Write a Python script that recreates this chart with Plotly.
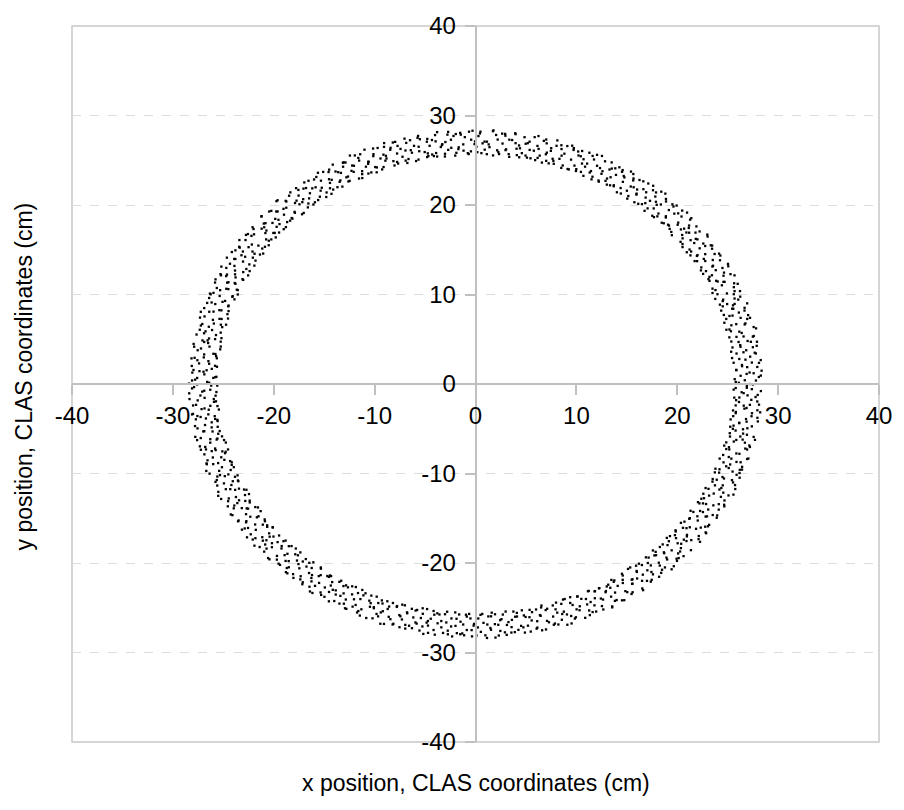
import numpy as np
import plotly.graph_objects as go

# Hit positions, in polar form (angle in degrees, radius in cm)
theta_deg_a = [
    0.3, 0.8, 1.2, 1.9, 2.4, 2.7, 3.5, 3.9, 4.6, 5.0, 5.4, 6.1, 6.5, 7.2, 7.6, 8.0, 8.7, 9.1, 9.4, 9.8,
    10.1, 10.6, 11.0, 11.5, 12.2, 12.6, 13.1, 13.7, 14.2, 14.5, 15.2, 15.7, 16.3, 16.8, 17.1, 17.7, 18.3, 18.6, 19.2, 19.7,
    20.4, 20.7, 21.4, 21.8, 22.1, 22.9, 23.3, 23.8, 24.4, 24.9, 25.5, 25.9, 26.2, 26.9, 27.4, 27.9, 28.2, 28.9, 29.3, 29.6,
    30.2, 30.5, 31.1, 31.7, 32.3, 32.8, 33.2, 33.6, 34.1, 34.7, 35.1, 35.6, 36.0, 36.6, 37.3, 37.8, 38.4, 38.8, 39.0, 39.5,
    40.3, 40.8, 41.2, 41.9, 42.4, 42.7, 43.5, 43.9, 44.6, 45.0, 45.4, 46.1, 46.5, 47.2, 47.6, 48.0, 48.7, 49.1, 49.4, 49.8,
    50.1, 50.6, 51.0, 51.5, 52.2, 52.6, 53.1, 53.7, 54.2, 54.5, 55.2, 55.7, 56.3, 56.8, 57.1, 57.7, 58.3, 58.6, 59.2, 59.7,
    60.4, 60.7, 61.4, 61.8, 62.1, 62.9, 63.3, 63.8, 64.4, 64.9, 65.5, 65.9, 66.2, 66.9, 67.4, 67.9, 68.2, 68.9, 69.3, 69.6,
    70.2, 70.5, 71.1, 71.7, 72.3, 72.8, 73.2, 73.6, 74.1, 74.7, 75.1, 75.6, 76.0, 76.6, 77.3, 77.8, 78.4, 78.8, 79.0, 79.5,
    80.3, 80.8, 81.2, 81.9, 82.4, 82.7, 83.5, 83.9, 84.6, 85.0, 85.4, 86.1, 86.5, 87.2, 87.6, 88.0, 88.7, 89.1, 89.4, 89.8,
    90.1, 90.6, 91.0, 91.5, 92.2, 92.6, 93.1, 93.7, 94.2, 94.5, 95.2, 95.7, 96.3, 96.8, 97.1, 97.7, 98.3, 98.6, 99.2, 99.7,
    100.4, 100.7, 101.4, 101.8, 102.1, 102.9, 103.3, 103.8, 104.4, 104.9, 105.5, 105.9, 106.2, 106.9, 107.4, 107.9, 108.2, 108.9, 109.3, 109.6,
    110.2, 110.5, 111.1, 111.7, 112.3, 112.8, 113.2, 113.6, 114.1, 114.7, 115.1, 115.6, 116.0, 116.6, 117.3, 117.8, 118.4, 118.8, 119.0, 119.5,
    120.3, 120.8, 121.2, 121.9, 122.4, 122.7, 123.5, 123.9, 124.6, 125.0, 125.4, 126.1, 126.5, 127.2, 127.6, 128.0, 128.7, 129.1, 129.4, 129.8,
    130.1, 130.6, 131.0, 131.5, 132.2, 132.6, 133.1, 133.7, 134.2, 134.5, 135.2, 135.7, 136.3, 136.8, 137.1, 137.7, 138.3, 138.6, 139.2, 139.7,
    140.4, 140.7, 141.4, 141.8, 142.1, 142.9, 143.3, 143.8, 144.4, 144.9, 145.5, 145.9, 146.2, 146.9, 147.4, 147.9, 148.2, 148.9, 149.3, 149.6,
    150.2, 150.5, 151.1, 151.7, 152.3, 152.8, 153.2, 153.6, 154.1, 154.7, 155.1, 155.6, 156.0, 156.6, 157.3, 157.8, 158.4, 158.8, 159.0, 159.5,
    160.3, 160.8, 161.2, 161.9, 162.4, 162.7, 163.5, 163.9, 164.6, 165.0, 165.4, 166.1, 166.5, 167.2, 167.6, 168.0, 168.7, 169.1, 169.4, 169.8,
    170.1, 170.6, 171.0, 171.5, 172.2, 172.6, 173.1, 173.7, 174.2, 174.5, 175.2, 175.7, 176.3, 176.8, 177.1, 177.7, 178.3, 178.6, 179.2, 179.7,
    180.4, 180.7, 181.4, 181.8, 182.1, 182.9, 183.3, 183.8, 184.4, 184.9, 185.5, 185.9, 186.2, 186.9, 187.4, 187.9, 188.2, 188.9, 189.3, 189.6,
    190.2, 190.5, 191.1, 191.7, 192.3, 192.8, 193.2, 193.6, 194.1, 194.7, 195.1, 195.6, 196.0, 196.6, 197.3, 197.8, 198.4, 198.8, 199.0, 199.5,
    200.3, 200.8, 201.2, 201.9, 202.4, 202.7, 203.5, 203.9, 204.6, 205.0, 205.4, 206.1, 206.5, 207.2, 207.6, 208.0, 208.7, 209.1, 209.4, 209.8,
    210.1, 210.6, 211.0, 211.5, 212.2, 212.6, 213.1, 213.7, 214.2, 214.5, 215.2, 215.7, 216.3, 216.8, 217.1, 217.7, 218.3, 218.6, 219.2, 219.7,
    220.4, 220.7, 221.4, 221.8, 222.1, 222.9, 223.3, 223.8, 224.4, 224.9, 225.5, 225.9, 226.2, 226.9, 227.4, 227.9, 228.2, 228.9, 229.3, 229.6,
    230.2, 230.5, 231.1, 231.7, 232.3, 232.8, 233.2, 233.6, 234.1, 234.7, 235.1, 235.6, 236.0, 236.6, 237.3, 237.8, 238.4, 238.8, 239.0, 239.5,
    240.3, 240.8, 241.2, 241.9, 242.4, 242.7, 243.5, 243.9, 244.6, 245.0, 245.4, 246.1, 246.5, 247.2, 247.6, 248.0, 248.7, 249.1, 249.4, 249.8,
    250.1, 250.6, 251.0, 251.5, 252.2, 252.6, 253.1, 253.7, 254.2, 254.5, 255.2, 255.7, 256.3, 256.8, 257.1, 257.7, 258.3, 258.6, 259.2, 259.7,
    260.4, 260.7, 261.4, 261.8, 262.1, 262.9, 263.3, 263.8, 264.4, 264.9, 265.5, 265.9, 266.2, 266.9, 267.4, 267.9, 268.2, 268.9, 269.3, 269.6,
    270.2, 270.5, 271.1, 271.7, 272.3, 272.8, 273.2, 273.6, 274.1, 274.7, 275.1, 275.6, 276.0, 276.6, 277.3, 277.8, 278.4, 278.8, 279.0, 279.5,
    280.3, 280.8, 281.2, 281.9, 282.4, 282.7, 283.5, 283.9, 284.6, 285.0, 285.4, 286.1, 286.5, 287.2, 287.6, 288.0, 288.7, 289.1, 289.4, 289.8,
    290.1, 290.6, 291.0, 291.5, 292.2, 292.6, 293.1, 293.7, 294.2, 294.5, 295.2, 295.7, 296.3, 296.8, 297.1, 297.7, 298.3, 298.6, 299.2, 299.7,
    300.4, 300.7, 301.4, 301.8, 302.1, 302.9, 303.3, 303.8, 304.4, 304.9, 305.5, 305.9, 306.2, 306.9, 307.4, 307.9, 308.2, 308.9, 309.3, 309.6,
    310.2, 310.5, 311.1, 311.7, 312.3, 312.8, 313.2, 313.6, 314.1, 314.7, 315.1, 315.6, 316.0, 316.6, 317.3, 317.8, 318.4, 318.8, 319.0, 319.5,
    320.3, 320.8, 321.2, 321.9, 322.4, 322.7, 323.5, 323.9, 324.6, 325.0, 325.4, 326.1, 326.5, 327.2, 327.6, 328.0, 328.7, 329.1, 329.4, 329.8,
    330.1, 330.6, 331.0, 331.5, 332.2, 332.6, 333.1, 333.7, 334.2, 334.5, 335.2, 335.7, 336.3, 336.8, 337.1, 337.7, 338.3, 338.6, 339.2, 339.7,
    340.4, 340.7, 341.4, 341.8, 342.1, 342.9, 343.3, 343.8, 344.4, 344.9, 345.5, 345.9, 346.2, 346.9, 347.4, 347.9, 348.2, 348.9, 349.3, 349.6,
    350.2, 350.5, 351.1, 351.7, 352.3, 352.8, 353.2, 353.6, 354.1, 354.7, 355.1, 355.6, 356.0, 356.6, 357.3, 357.8, 358.4, 358.8, 359.0, 359.5,
]

radius_cm_a = [
    26.1, 27.8, 25.7, 28.3, 26.9, 27.2, 25.9, 28.0, 26.5, 27.5, 28.4, 26.3, 25.6, 27.9, 26.8, 27.1, 28.2, 25.8, 26.6, 27.7,
    27.4, 25.8, 28.1, 26.4, 27.0, 28.5, 26.0, 25.6, 27.6, 26.7, 28.2, 27.3, 25.9, 26.3, 27.9, 28.0, 26.8, 25.7, 27.2, 26.5,
    28.0, 26.2, 27.5, 25.6, 26.9, 27.8, 28.3, 26.0, 25.8, 27.1, 26.6, 28.1, 27.4, 25.9, 26.4, 27.7, 28.4, 26.1, 27.0, 25.7,
    25.9, 27.3, 28.2, 26.6, 25.7, 27.9, 26.3, 28.0, 27.5, 26.0, 25.6, 28.3, 26.8, 27.2, 25.8, 27.6, 26.2, 28.1, 26.9, 27.4,
    26.7, 28.1, 25.8, 27.0, 28.4, 26.1, 27.7, 25.9, 26.5, 28.2, 27.3, 26.0, 25.7, 27.8, 28.0, 26.4, 27.1, 25.6, 28.3, 26.8,
    27.9, 26.0, 26.8, 28.3, 25.7, 27.4, 26.6, 28.1, 25.9, 27.0, 26.3, 27.8, 28.2, 25.6, 26.9, 27.5, 26.1, 28.0, 27.2, 25.8,
    26.4, 27.6, 28.2, 25.8, 26.9, 27.1, 25.6, 28.4, 26.2, 27.7, 28.0, 26.6, 25.9, 27.3, 26.0, 28.1, 27.5, 25.7, 26.8, 27.9,
    28.3, 25.9, 27.2, 26.5, 28.0, 26.1, 27.8, 25.7, 27.4, 26.8, 25.6, 28.2, 26.3, 27.0, 28.4, 25.8, 26.7, 27.6, 26.0, 27.3,
    25.7, 27.0, 26.6, 28.2, 27.5, 25.9, 26.3, 27.9, 28.1, 26.0, 27.4, 25.6, 28.3, 26.8, 27.1, 26.2, 25.8, 28.0, 27.7, 26.5,
    27.1, 28.3, 26.0, 25.7, 27.6, 26.8, 28.1, 26.3, 25.9, 27.8, 26.5, 28.0, 27.2, 25.6, 26.9, 28.4, 27.4, 26.1, 25.8, 27.0,
    26.2, 25.8, 27.9, 28.1, 26.6, 27.3, 25.6, 26.9, 28.3, 27.0, 25.9, 26.4, 27.7, 28.2, 26.0, 27.5, 25.7, 28.0, 26.7, 27.2,
    28.1, 26.9, 25.7, 27.4, 26.2, 28.4, 27.0, 25.8, 26.6, 27.8, 28.2, 26.0, 25.6, 27.3, 26.8, 28.0, 27.6, 25.9, 26.4, 27.1,
    27.5, 26.3, 28.0, 25.9, 27.1, 26.7, 28.3, 25.6, 26.0, 27.9, 26.5, 28.1, 27.2, 25.8, 26.9, 27.7, 25.7, 28.2, 26.1, 27.4,
    25.8, 28.2, 26.6, 27.0, 25.6, 27.8, 26.2, 28.4, 27.3, 26.0, 25.9, 27.6, 28.0, 26.8, 27.1, 25.7, 26.4, 28.3, 27.5, 26.1,
    26.9, 27.4, 25.9, 28.0, 26.3, 25.7, 27.7, 28.2, 26.0, 27.1, 28.4, 25.8, 26.6, 27.9, 26.2, 28.1, 27.3, 25.6, 26.8, 27.6,
    28.4, 26.1, 27.3, 25.6, 27.9, 26.8, 25.8, 27.5, 28.1, 26.4, 27.0, 28.3, 25.9, 26.7, 27.8, 26.0, 25.7, 27.2, 28.2, 26.5,
    26.0, 27.7, 28.1, 26.5, 25.8, 27.2, 28.4, 26.2, 27.0, 25.6, 26.8, 27.9, 28.0, 25.9, 27.4, 26.3, 28.2, 26.9, 25.7, 27.5,
    27.3, 25.6, 26.7, 28.2, 27.8, 26.0, 25.9, 27.1, 28.3, 26.6, 27.5, 25.7, 26.2, 28.0, 27.0, 26.9, 25.8, 27.6, 28.1, 26.4,
    25.6, 27.9, 26.3, 27.1, 28.4, 25.8, 26.9, 27.6, 26.0, 28.1, 25.7, 27.3, 26.6, 28.3, 27.8, 26.1, 27.0, 25.9, 26.5, 28.2,
    28.0, 26.6, 27.4, 25.9, 26.1, 28.3, 27.0, 26.4, 25.7, 27.7, 28.2, 26.8, 27.2, 25.6, 26.0, 27.9, 28.1, 26.3, 27.5, 25.8,
    26.8, 28.2, 25.7, 27.3, 26.5, 27.8, 26.0, 28.0, 25.9, 26.7, 27.4, 28.4, 26.2, 25.8, 27.6, 26.9, 25.6, 28.1, 27.1, 26.3,
    27.7, 26.0, 28.3, 26.6, 25.8, 27.0, 28.1, 25.6, 27.5, 26.3, 28.0, 26.9, 25.9, 27.2, 28.4, 26.1, 27.8, 25.7, 26.4, 27.4,
    26.3, 27.5, 26.9, 28.1, 27.2, 25.7, 26.4, 28.3, 25.9, 27.8, 26.6, 25.6, 28.0, 27.1, 26.0, 27.6, 28.2, 26.7, 25.8, 27.9,
    28.2, 25.9, 27.6, 26.2, 28.0, 26.8, 25.6, 27.4, 26.5, 28.4, 27.1, 26.0, 25.8, 27.9, 26.3, 28.1, 27.0, 25.7, 26.9, 27.3,
    25.9, 26.8, 28.0, 27.3, 25.6, 28.2, 26.1, 27.7, 26.6, 25.8, 27.9, 28.3, 26.4, 27.0, 25.7, 26.9, 28.1, 27.5, 26.2, 27.2,
    27.0, 28.4, 26.3, 25.8, 27.6, 26.1, 28.0, 26.9, 25.7, 27.3, 26.5, 28.2, 27.8, 26.0, 25.9, 27.4, 26.7, 28.1, 25.6, 27.1,
    26.6, 25.7, 27.8, 28.3, 26.0, 27.4, 25.9, 26.8, 28.1, 27.2, 25.6, 26.3, 27.9, 28.0, 26.9, 25.8, 27.5, 26.2, 28.2, 27.0,
    28.1, 27.2, 25.8, 26.7, 28.4, 26.0, 27.5, 25.6, 26.9, 28.2, 27.7, 26.4, 25.9, 27.1, 28.0, 26.6, 25.7, 27.8, 26.3, 27.4,
    25.7, 26.5, 28.2, 27.0, 26.1, 27.9, 28.3, 26.6, 25.8, 27.4, 26.2, 28.0, 27.1, 25.9, 26.8, 27.7, 28.4, 26.0, 27.3, 25.6,
    27.6, 28.0, 26.2, 25.6, 27.3, 26.9, 25.8, 28.2, 27.0, 26.4, 28.1, 25.7, 26.7, 27.8, 26.0, 27.2, 25.9, 28.3, 26.5, 27.9,
    26.4, 27.1, 28.3, 26.0, 25.9, 27.7, 26.6, 28.0, 25.7, 27.2, 26.8, 28.2, 25.6, 27.5, 26.3, 27.0, 28.1, 25.8, 26.9, 27.6,
    28.2, 26.3, 25.7, 27.8, 27.0, 26.1, 28.4, 25.9, 27.3, 26.6, 25.8, 27.9, 28.0, 26.2, 27.6, 25.6, 26.8, 27.1, 28.3, 26.0,
    25.8, 27.6, 26.9, 28.1, 26.4, 25.6, 27.2, 28.3, 26.0, 27.8, 28.0, 26.5, 25.9, 27.3, 26.7, 28.2, 27.0, 25.7, 26.2, 27.9,
    27.2, 26.0, 28.2, 25.7, 27.9, 26.6, 25.9, 27.4, 28.4, 26.3, 27.0, 25.8, 28.1, 26.8, 27.6, 26.1, 25.6, 27.8, 28.0, 26.5,
    26.1, 28.0, 27.3, 26.7, 25.8, 28.3, 27.0, 26.2, 25.6, 27.7, 28.1, 26.4, 27.5, 25.9, 26.9, 28.2, 27.1, 26.0, 25.7, 27.4,
    27.8, 26.5, 25.6, 27.1, 28.2, 26.0, 27.6, 28.4, 26.8, 25.9, 27.3, 26.2, 28.0, 25.7, 27.0, 26.6, 28.3, 27.4, 25.8, 26.9,
]

theta_deg_b = [
    0.0, 0.5, 0.9, 1.6, 2.0, 2.5, 3.0, 3.4, 4.0, 4.3, 4.8, 5.3, 5.8, 6.4, 7.0, 7.5, 8.1, 8.5, 9.0, 9.6,
    10.2, 10.9, 11.3, 11.7, 12.6, 13.0, 13.6, 14.0, 14.5, 15.1, 15.5, 15.9, 16.7, 17.0, 17.4, 18.2, 18.5, 19.0, 19.5, 19.9,
    20.1, 20.4, 21.0, 21.6, 22.0, 22.7, 23.4, 23.7, 24.3, 24.8, 25.3, 25.8, 26.4, 26.8, 27.3, 27.7, 28.1, 28.6, 29.2, 29.7,
    30.6, 31.1, 31.5, 32.0, 32.5, 33.1, 33.4, 34.0, 34.3, 34.8, 35.3, 36.0, 36.3, 36.7, 37.0, 37.5, 38.0, 38.6, 39.1, 39.9,
    40.0, 40.5, 40.9, 41.6, 42.0, 42.5, 43.0, 43.4, 44.0, 44.3, 44.8, 45.3, 45.8, 46.4, 47.0, 47.5, 48.1, 48.5, 49.0, 49.6,
    50.2, 50.9, 51.3, 51.7, 52.6, 53.0, 53.6, 54.0, 54.5, 55.1, 55.5, 55.9, 56.7, 57.0, 57.4, 58.2, 58.5, 59.0, 59.5, 59.9,
    60.1, 60.4, 61.0, 61.6, 62.0, 62.7, 63.4, 63.7, 64.3, 64.8, 65.3, 65.8, 66.4, 66.8, 67.3, 67.7, 68.1, 68.6, 69.2, 69.7,
    70.6, 71.1, 71.5, 72.0, 72.5, 73.1, 73.4, 74.0, 74.3, 74.8, 75.3, 76.0, 76.3, 76.7, 77.0, 77.5, 78.0, 78.6, 79.1, 79.9,
    80.0, 80.5, 80.9, 81.6, 82.0, 82.5, 83.0, 83.4, 84.0, 84.3, 84.8, 85.3, 85.8, 86.4, 87.0, 87.5, 88.1, 88.5, 89.0, 89.6,
    90.2, 90.9, 91.3, 91.7, 92.6, 93.0, 93.6, 94.0, 94.5, 95.1, 95.5, 95.9, 96.7, 97.0, 97.4, 98.2, 98.5, 99.0, 99.5, 99.9,
    100.1, 100.4, 101.0, 101.6, 102.0, 102.7, 103.4, 103.7, 104.3, 104.8, 105.3, 105.8, 106.4, 106.8, 107.3, 107.7, 108.1, 108.6, 109.2, 109.7,
    110.6, 111.1, 111.5, 112.0, 112.5, 113.1, 113.4, 114.0, 114.3, 114.8, 115.3, 116.0, 116.3, 116.7, 117.0, 117.5, 118.0, 118.6, 119.1, 119.9,
    120.0, 120.5, 120.9, 121.6, 122.0, 122.5, 123.0, 123.4, 124.0, 124.3, 124.8, 125.3, 125.8, 126.4, 127.0, 127.5, 128.1, 128.5, 129.0, 129.6,
    130.2, 130.9, 131.3, 131.7, 132.6, 133.0, 133.6, 134.0, 134.5, 135.1, 135.5, 135.9, 136.7, 137.0, 137.4, 138.2, 138.5, 139.0, 139.5, 139.9,
    140.1, 140.4, 141.0, 141.6, 142.0, 142.7, 143.4, 143.7, 144.3, 144.8, 145.3, 145.8, 146.4, 146.8, 147.3, 147.7, 148.1, 148.6, 149.2, 149.7,
    150.6, 151.1, 151.5, 152.0, 152.5, 153.1, 153.4, 154.0, 154.3, 154.8, 155.3, 156.0, 156.3, 156.7, 157.0, 157.5, 158.0, 158.6, 159.1, 159.9,
    160.0, 160.5, 160.9, 161.6, 162.0, 162.5, 163.0, 163.4, 164.0, 164.3, 164.8, 165.3, 165.8, 166.4, 167.0, 167.5, 168.1, 168.5, 169.0, 169.6,
    170.2, 170.9, 171.3, 171.7, 172.6, 173.0, 173.6, 174.0, 174.5, 175.1, 175.5, 175.9, 176.7, 177.0, 177.4, 178.2, 178.5, 179.0, 179.5, 179.9,
    180.1, 180.4, 181.0, 181.6, 182.0, 182.7, 183.4, 183.7, 184.3, 184.8, 185.3, 185.8, 186.4, 186.8, 187.3, 187.7, 188.1, 188.6, 189.2, 189.7,
    190.6, 191.1, 191.5, 192.0, 192.5, 193.1, 193.4, 194.0, 194.3, 194.8, 195.3, 196.0, 196.3, 196.7, 197.0, 197.5, 198.0, 198.6, 199.1, 199.9,
    200.0, 200.5, 200.9, 201.6, 202.0, 202.5, 203.0, 203.4, 204.0, 204.3, 204.8, 205.3, 205.8, 206.4, 207.0, 207.5, 208.1, 208.5, 209.0, 209.6,
    210.2, 210.9, 211.3, 211.7, 212.6, 213.0, 213.6, 214.0, 214.5, 215.1, 215.5, 215.9, 216.7, 217.0, 217.4, 218.2, 218.5, 219.0, 219.5, 219.9,
    220.1, 220.4, 221.0, 221.6, 222.0, 222.7, 223.4, 223.7, 224.3, 224.8, 225.3, 225.8, 226.4, 226.8, 227.3, 227.7, 228.1, 228.6, 229.2, 229.7,
    230.6, 231.1, 231.5, 232.0, 232.5, 233.1, 233.4, 234.0, 234.3, 234.8, 235.3, 236.0, 236.3, 236.7, 237.0, 237.5, 238.0, 238.6, 239.1, 239.9,
    240.0, 240.5, 240.9, 241.6, 242.0, 242.5, 243.0, 243.4, 244.0, 244.3, 244.8, 245.3, 245.8, 246.4, 247.0, 247.5, 248.1, 248.5, 249.0, 249.6,
    250.2, 250.9, 251.3, 251.7, 252.6, 253.0, 253.6, 254.0, 254.5, 255.1, 255.5, 255.9, 256.7, 257.0, 257.4, 258.2, 258.5, 259.0, 259.5, 259.9,
    260.1, 260.4, 261.0, 261.6, 262.0, 262.7, 263.4, 263.7, 264.3, 264.8, 265.3, 265.8, 266.4, 266.8, 267.3, 267.7, 268.1, 268.6, 269.2, 269.7,
    270.6, 271.1, 271.5, 272.0, 272.5, 273.1, 273.4, 274.0, 274.3, 274.8, 275.3, 276.0, 276.3, 276.7, 277.0, 277.5, 278.0, 278.6, 279.1, 279.9,
    280.0, 280.5, 280.9, 281.6, 282.0, 282.5, 283.0, 283.4, 284.0, 284.3, 284.8, 285.3, 285.8, 286.4, 287.0, 287.5, 288.1, 288.5, 289.0, 289.6,
    290.2, 290.9, 291.3, 291.7, 292.6, 293.0, 293.6, 294.0, 294.5, 295.1, 295.5, 295.9, 296.7, 297.0, 297.4, 298.2, 298.5, 299.0, 299.5, 299.9,
    300.1, 300.4, 301.0, 301.6, 302.0, 302.7, 303.4, 303.7, 304.3, 304.8, 305.3, 305.8, 306.4, 306.8, 307.3, 307.7, 308.1, 308.6, 309.2, 309.7,
    310.6, 311.1, 311.5, 312.0, 312.5, 313.1, 313.4, 314.0, 314.3, 314.8, 315.3, 316.0, 316.3, 316.7, 317.0, 317.5, 318.0, 318.6, 319.1, 319.9,
    320.0, 320.5, 320.9, 321.6, 322.0, 322.5, 323.0, 323.4, 324.0, 324.3, 324.8, 325.3, 325.8, 326.4, 327.0, 327.5, 328.1, 328.5, 329.0, 329.6,
    330.2, 330.9, 331.3, 331.7, 332.6, 333.0, 333.6, 334.0, 334.5, 335.1, 335.5, 335.9, 336.7, 337.0, 337.4, 338.2, 338.5, 339.0, 339.5, 339.9,
    340.1, 340.4, 341.0, 341.6, 342.0, 342.7, 343.4, 343.7, 344.3, 344.8, 345.3, 345.8, 346.4, 346.8, 347.3, 347.7, 348.1, 348.6, 349.2, 349.7,
    350.6, 351.1, 351.5, 352.0, 352.5, 353.1, 353.4, 354.0, 354.3, 354.8, 355.3, 356.0, 356.3, 356.7, 357.0, 357.5, 358.0, 358.6, 359.1, 359.9,
]

radius_cm_b = [
    27.2, 25.8, 26.7, 28.1, 26.3, 27.6, 28.4, 25.9, 27.0, 26.5, 28.2, 25.7, 26.9, 27.4, 28.0, 26.1, 25.6, 27.8, 26.6, 28.3,
    26.5, 28.0, 27.1, 25.7, 26.8, 28.3, 25.9, 27.5, 26.2, 27.9, 25.6, 28.1, 26.6, 27.3, 25.8, 26.9, 28.4, 27.0, 26.0, 27.7,
    25.8, 27.4, 26.3, 28.2, 27.7, 26.0, 25.6, 28.0, 26.8, 27.2, 28.4, 26.5, 25.9, 27.6, 26.1, 28.3, 27.0, 25.7, 26.9, 27.9,
    28.2, 26.6, 27.8, 25.9, 27.0, 26.2, 28.1, 25.7, 26.9, 27.5, 26.0, 28.4, 27.3, 25.6, 26.7, 28.0, 25.8, 27.1, 26.4, 27.6,
    27.0, 25.6, 28.3, 26.8, 25.9, 27.7, 26.1, 28.2, 27.4, 25.8, 26.6, 27.9, 28.0, 26.3, 25.7, 27.2, 26.9, 28.4, 26.0, 27.5,
    26.3, 27.9, 25.8, 27.3, 28.2, 26.5, 27.0, 25.6, 28.0, 26.9, 27.6, 25.7, 26.2, 28.3, 27.4, 26.0, 27.8, 25.9, 28.1, 26.7,
    27.8, 26.1, 27.4, 25.7, 26.6, 28.0, 25.9, 27.2, 26.4, 28.3, 25.6, 27.0, 28.2, 26.8, 25.8, 27.5, 26.3, 27.9, 25.7, 28.1,
    25.6, 28.1, 26.9, 27.6, 25.8, 26.3, 28.4, 27.1, 25.9, 26.6, 27.8, 28.0, 26.0, 25.7, 27.3, 26.7, 28.2, 25.8, 27.4, 26.2,
    28.0, 26.7, 25.9, 27.2, 28.3, 25.6, 27.5, 26.4, 28.1, 27.0, 25.8, 26.2, 27.9, 28.4, 26.5, 25.7, 27.1, 26.9, 28.2, 25.9,
    26.8, 27.3, 28.2, 25.8, 26.1, 27.9, 26.5, 28.0, 25.6, 27.4, 28.3, 26.3, 25.9, 27.0, 26.7, 28.1, 25.7, 27.6, 26.0, 27.8,
    27.5, 25.9, 26.4, 28.3, 27.1, 25.7, 28.0, 26.6, 27.8, 26.0, 25.6, 27.3, 28.2, 26.9, 25.8, 27.7, 26.2, 28.4, 27.0, 26.5,
    25.9, 28.2, 27.6, 26.1, 25.6, 27.0, 26.8, 28.1, 25.8, 27.5, 26.3, 28.4, 27.2, 25.7, 26.6, 27.9, 28.0, 26.4, 25.9, 27.3,
    28.3, 26.4, 25.7, 27.8, 26.9, 28.1, 25.9, 26.2, 27.4, 28.0, 26.7, 25.6, 27.1, 26.0, 28.2, 27.6, 25.8, 26.5, 27.9, 26.8,
    26.6, 27.1, 28.0, 25.6, 27.7, 26.3, 27.2, 28.4, 25.9, 26.8, 27.5, 26.0, 28.1, 25.7, 26.4, 27.0, 28.3, 25.8, 27.6, 26.2,
    27.3, 25.7, 26.8, 28.2, 26.0, 27.6, 28.1, 25.9, 26.5, 27.9, 25.6, 27.2, 26.3, 28.0, 27.4, 25.8, 26.9, 28.3, 26.1, 27.7,
    25.7, 27.8, 26.2, 27.0, 28.4, 25.9, 26.6, 27.5, 28.0, 26.3, 27.1, 25.8, 28.2, 26.9, 25.6, 27.4, 26.0, 27.9, 28.1, 26.7,
    28.1, 26.0, 27.3, 25.8, 26.7, 28.2, 27.6, 25.6, 26.4, 27.9, 28.3, 26.1, 25.9, 27.2, 26.8, 28.0, 27.5, 25.7, 26.3, 27.0,
    26.9, 28.3, 25.6, 27.5, 26.2, 27.1, 25.8, 28.0, 27.7, 26.5, 25.9, 28.2, 26.7, 27.4, 28.1, 25.7, 26.0, 27.8, 26.6, 28.4,
    27.6, 26.2, 28.1, 26.9, 25.7, 27.3, 28.4, 26.0, 25.8, 27.8, 26.4, 27.0, 25.6, 28.2, 26.7, 27.5, 28.0, 26.1, 25.9, 27.2,
    26.0, 27.5, 26.6, 28.4, 27.9, 25.8, 26.3, 27.1, 28.2, 25.6, 27.7, 26.8, 28.0, 26.2, 25.9, 27.3, 26.5, 28.1, 27.0, 25.7,
    28.4, 25.8, 27.2, 26.1, 27.6, 26.9, 28.0, 25.7, 27.3, 26.4, 25.9, 28.2, 27.0, 26.6, 28.3, 25.6, 27.8, 26.0, 26.8, 27.5,
    25.9, 27.0, 28.2, 26.5, 25.6, 28.0, 26.8, 27.4, 26.1, 28.3, 27.7, 25.8, 26.3, 27.9, 26.0, 28.1, 25.7, 27.2, 28.4, 26.6,
    27.1, 28.1, 25.8, 27.7, 26.4, 25.9, 28.3, 26.6, 27.5, 25.7, 26.9, 28.0, 27.3, 26.1, 25.6, 27.8, 26.5, 28.2, 26.2, 27.0,
    26.4, 25.6, 27.9, 26.8, 28.2, 27.1, 25.7, 28.0, 26.3, 27.6, 28.4, 26.0, 25.8, 27.2, 28.1, 26.7, 27.4, 25.9, 28.3, 26.1,
    28.0, 27.2, 26.0, 25.7, 27.8, 26.5, 28.2, 26.9, 25.6, 27.4, 26.1, 28.1, 27.6, 25.8, 26.6, 28.3, 27.0, 26.3, 25.9, 27.7,
    25.8, 26.6, 28.3, 27.4, 26.0, 28.1, 25.7, 27.0, 28.2, 26.4, 27.8, 25.9, 26.8, 28.0, 27.3, 25.6, 26.2, 27.6, 28.4, 26.9,
    27.4, 28.2, 26.1, 25.9, 27.0, 26.7, 28.0, 25.6, 27.7, 26.3, 28.3, 27.1, 25.8, 26.6, 27.9, 28.1, 26.0, 25.7, 27.5, 26.8,
    26.2, 27.7, 25.7, 28.1, 26.9, 27.3, 26.0, 28.4, 25.8, 27.0, 26.5, 27.9, 28.2, 25.6, 26.8, 27.4, 28.0, 26.3, 25.9, 27.6,
    28.2, 26.3, 27.5, 26.6, 25.8, 28.0, 27.2, 25.9, 26.7, 28.3, 25.6, 27.6, 26.1, 27.9, 28.1, 26.4, 25.7, 27.1, 26.9, 28.4,
    25.6, 27.9, 26.5, 27.1, 28.3, 25.8, 26.2, 27.7, 28.0, 26.9, 27.4, 25.7, 28.2, 26.0, 27.0, 25.9, 28.4, 26.6, 27.3, 26.1,
    27.9, 26.0, 28.2, 25.7, 26.6, 27.5, 28.1, 26.3, 25.9, 27.2, 26.8, 28.4, 27.0, 25.6, 26.4, 27.8, 25.8, 28.0, 26.1, 27.3,
    26.7, 28.0, 25.9, 27.3, 27.8, 26.2, 25.6, 28.3, 27.1, 26.5, 28.1, 25.8, 26.9, 27.6, 28.2, 26.0, 27.4, 25.7, 26.3, 27.0,
    27.3, 25.7, 27.0, 28.4, 26.1, 27.9, 26.6, 25.8, 28.2, 27.5, 26.0, 26.8, 28.0, 25.6, 27.2, 26.4, 27.7, 28.1, 25.9, 26.5,
    25.8, 27.6, 28.1, 26.3, 27.4, 25.6, 28.0, 26.9, 27.0, 25.9, 28.3, 26.2, 27.8, 26.6, 25.7, 28.2, 26.0, 27.3, 26.8, 27.9,
    28.1, 26.8, 25.6, 27.7, 26.4, 28.2, 27.3, 25.9, 26.1, 27.9, 25.7, 28.0, 26.6, 27.2, 28.4, 25.8, 27.5, 26.3, 27.0, 26.0,
    26.5, 27.2, 28.3, 25.8, 27.6, 26.0, 25.7, 28.1, 27.0, 26.7, 28.2, 25.9, 27.4, 26.2, 27.8, 28.0, 26.4, 25.6, 26.9, 27.5,
]

axis_ticks = [-40, -30, -20, -10, 0, 10, 20, 30, 40]
x_title = "x position, CLAS coordinates (cm)"
y_title = "y position, CLAS coordinates (cm)"

th = np.radians(np.array(theta_deg_a + theta_deg_b))
r = np.array(radius_cm_a + radius_cm_b)
x_cm = r * np.cos(th)
y_cm = r * np.sin(th)

FONT = "Liberation Sans, Arial, sans-serif"
AXIS_GRAY = "#c0c0c0"

fig = go.Figure()
fig.add_trace(go.Scatter(
    x=x_cm, y=y_cm, mode="markers",
    marker=dict(color="black", size=2.3, symbol="square", line=dict(width=0)),
    showlegend=False, hoverinfo="skip",
))

fig.update_layout(
    width=904, height=810,
    margin=dict(l=72, r=20, t=22, b=68),
    paper_bgcolor="white", plot_bgcolor="white",
    font=dict(family=FONT, color="black"),
    xaxis=dict(
        range=[-40, 40], tickvals=axis_ticks, ticktext=[str(v) for v in axis_ticks],
        anchor="free", position=0.5,
        showline=True, linecolor=AXIS_GRAY, linewidth=1.5,
        ticks="outside", ticklen=10, tickcolor=AXIS_GRAY, tickwidth=1.5,
        showgrid=False, zeroline=False,
        tickfont=dict(size=24, family=FONT, color="black"),
    ),
    yaxis=dict(
        range=[-40, 40], tickvals=axis_ticks, ticktext=[str(v) for v in axis_ticks],
        anchor="free", position=0.5,
        showline=True, linecolor=AXIS_GRAY, linewidth=1.5,
        ticks="outside", ticklen=10, tickcolor=AXIS_GRAY, tickwidth=1.5,
        ticklabelstandoff=4,
        showgrid=True, gridcolor="#dcdcdc", griddash="dash", gridwidth=1,
        zeroline=False,
        tickfont=dict(size=24, family=FONT, color="black"),
    ),
    shapes=[dict(type="rect", xref="paper", yref="paper", x0=0, y0=0, x1=1, y1=1,
                 line=dict(color="#c8c8c8", width=1.5), layer="below")],
    annotations=[
        dict(text=x_title, xref="paper", yref="paper", x=0.5, y=-0.057,
             xanchor="center", yanchor="middle", showarrow=False,
             font=dict(size=23, family=FONT, color="black")),
        dict(text=y_title, xref="paper", yref="paper", x=-0.06, y=0.51,
             xanchor="center", yanchor="middle", textangle=-90, showarrow=False,
             font=dict(size=23, family=FONT, color="black")),
    ],
)

fig.write_html("out.html")
